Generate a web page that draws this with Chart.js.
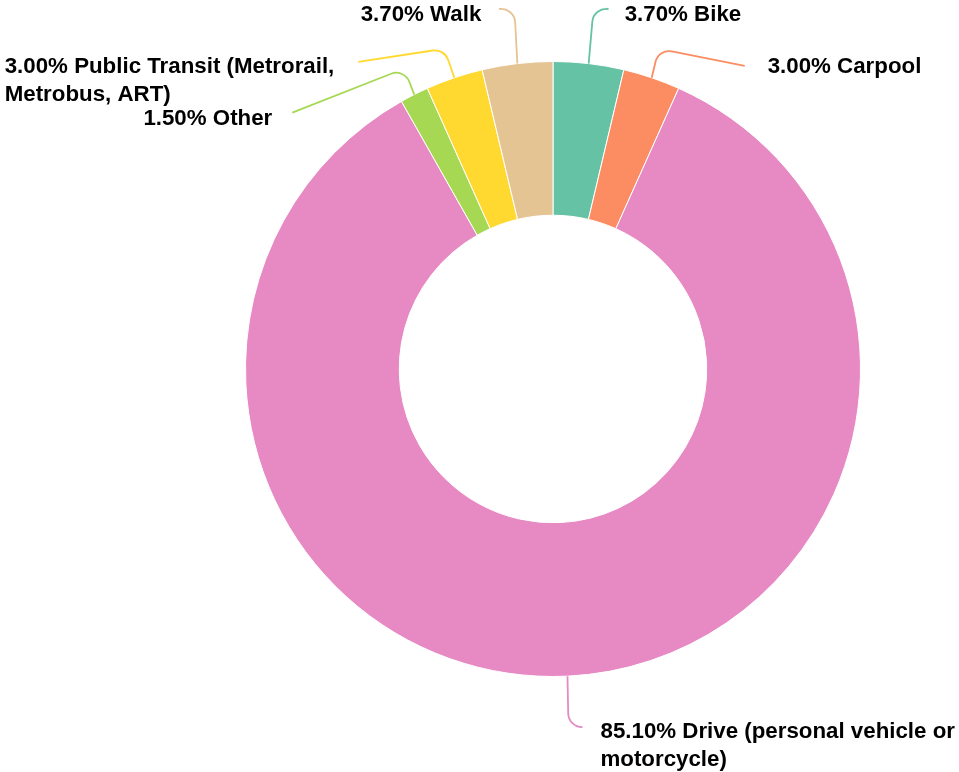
<!DOCTYPE html>
<html>
<head>
<meta charset="utf-8">
<script src="https://cdn.jsdelivr.net/npm/chart.js@4/dist/chart.umd.min.js"></script>
<style>
  html, body { margin: 0; padding: 0; background: #fff; }
  canvas { display: block; }
</style>
</head>
<body>
<canvas id="myChart" width="959" height="772"></canvas>
<script>
// data, clockwise from 12 o'clock
const categories = ['Bike', 'Carpool', 'Drive (personal vehicle or motorcycle)', 'Other', 'Public Transit (Metrorail, Metrobus, ART)', 'Walk'];
const shares = [3.7, 3.0, 85.1, 1.5, 3.0, 3.7];
const colors = ['#66c2a5', '#fc8d62', '#e78ac3', '#a6d854', '#ffd92f', '#e5c494'];

// leader line shape for each label: corner and end, as offsets from the slice edge
const leaders = [
    { corner: [5, -57], end: [17, -55], side: 'right', gap: 19, dy: 6 },
    { corner: [7, -29], end: [93, -12], side: 'right', gap: 23, dy: 1 },
    { corner: [1, 51], end: [15, 51], side: 'right', gap: 18, dy: 5 },
    { corner: [-10, -26], end: [-122, 18], side: 'left', gap: 20, dy: 6 },
    { corner: [-10, -29], end: [-96, -16], side: 'left', gap: 24, dy: 5, block: true },
    { corner: [-3, -57], end: [-15, -55], side: 'left', gap: 21, dy: 6 },
];

const FONT = 'bold 22.3px "Liberation Sans", Arial, Helvetica, sans-serif';
const LINE_H = 28;
const WRAP = 365;

// split a label into lines no wider than WRAP
const wrapText = (ctx, text) => {
    const words = text.split(' ');
    const lines = [];
    let cur = '';
    words.forEach((w) => {
        const test = cur ? cur + ' ' + w : w;
        if (cur && ctx.measureText(test).width > WRAP) {
            lines.push(cur);
            cur = w;
        } else {
            cur = test;
        }
    });
    if (cur) lines.push(cur);
    return lines;
}

const calloutPlugin = {
    id: 'callouts',
    afterDraw(chart) {
        const ctx = chart.ctx;
        const arcs = chart.getDatasetMeta(0).data;
        ctx.save();
        ctx.font = FONT;
        arcs.forEach((arc, i) => {
            const mid = (arc.startAngle + arc.endAngle) / 2;
            const x0 = arc.x + Math.cos(mid) * arc.outerRadius;
            const y0 = arc.y + Math.sin(mid) * arc.outerRadius;
            const l = leaders[i];
            const cx = x0 + l.corner[0], cy = y0 + l.corner[1];
            const ex = x0 + l.end[0], ey = y0 + l.end[1];

            ctx.strokeStyle = colors[i];
            ctx.lineWidth = 1.8;
            ctx.beginPath();
            ctx.moveTo(x0, y0);
            ctx.arcTo(cx, cy, ex, ey, 14);
            ctx.lineTo(ex, ey);
            ctx.stroke();

            const text = shares[i].toFixed(2) + '% ' + categories[i];
            const lines = wrapText(ctx, text);
            ctx.fillStyle = '#000';
            ctx.textBaseline = 'middle';
            let tx;
            if (l.side === 'right') {
                ctx.textAlign = 'left';
                tx = ex + l.gap;
            } else if (l.block) {
                ctx.textAlign = 'left';
                const w = Math.max(...lines.map((s) => ctx.measureText(s).width));
                tx = ex - l.gap - w;
            } else {
                ctx.textAlign = 'right';
                tx = ex - l.gap;
            }
            lines.forEach((s, k) => ctx.fillText(s, tx, ey + l.dy + k * LINE_H));
        });
        ctx.restore();
    }
};

const ctx = document.getElementById('myChart').getContext('2d');

const myChart = new Chart(ctx, {
    type: 'doughnut',
    data: {
        labels: categories,
        datasets: [{
            data: shares,
            backgroundColor: colors,
            borderColor: '#ffffff',
            borderWidth: 1,
            hoverOffset: 0,
        }]
    },
    options: {
        responsive: false,
        devicePixelRatio: 1,
        animation: false,
        cutout: '50%',
        layout: {
            padding: { left: 245, top: 61, right: 98, bottom: 95 }
        },
        plugins: {
            legend: { display: false },
            tooltip: { enabled: false },
        }
    },
    plugins: [calloutPlugin]
});
</script>
</body>
</html>
